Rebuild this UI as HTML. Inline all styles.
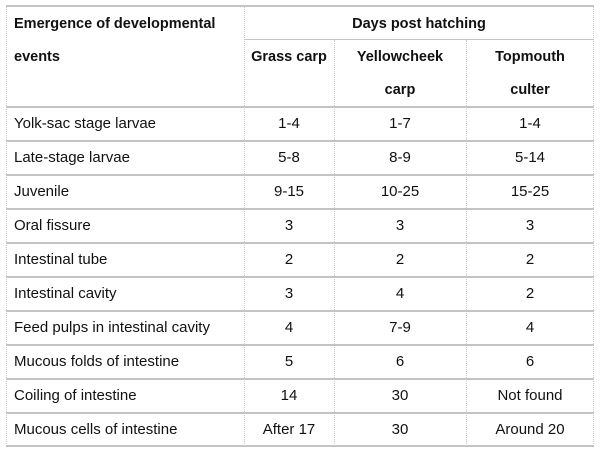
<!DOCTYPE html>
<html><head><style>
body{margin:0;width:600px;height:454px;background:#fff;font-family:"Liberation Sans",sans-serif;font-size:15px;color:#111;position:relative;overflow:hidden}
.h{position:absolute;height:2px;background:#c4c4c4}
.v{position:absolute;width:0;border-left:1px dotted #c8c8c8}
.t{position:absolute;white-space:nowrap}
.c{position:absolute;text-align:center;white-space:nowrap}
b{font-weight:bold;font-size:14.5px}
</style></head><body>
<div class="h" style="left:6px;width:588px;top:5px"></div>
<div class="h" style="left:244px;width:350px;top:39px;height:1px"></div>
<div class="h" style="left:6px;width:588px;top:106px"></div>
<div class="h" style="left:6px;width:588px;top:140px"></div>
<div class="h" style="left:6px;width:588px;top:174px"></div>
<div class="h" style="left:6px;width:588px;top:208px"></div>
<div class="h" style="left:6px;width:588px;top:242px"></div>
<div class="h" style="left:6px;width:588px;top:276px"></div>
<div class="h" style="left:6px;width:588px;top:310px"></div>
<div class="h" style="left:6px;width:588px;top:344px"></div>
<div class="h" style="left:6px;width:588px;top:378px"></div>
<div class="h" style="left:6px;width:588px;top:412px"></div>
<div class="h" style="left:6px;width:588px;top:445px"></div>
<div class="v" style="left:6px;top:6px;height:440px"></div>
<div class="v" style="left:244px;top:6px;height:440px"></div>
<div class="v" style="left:334px;top:40px;height:406px"></div>
<div class="v" style="left:466px;top:40px;height:406px"></div>
<div class="v" style="left:593px;top:6px;height:440px"></div>

<div class="t" style="left:14px;top:15px"><b>Emergence of developmental</b></div>
<div class="t" style="left:14px;top:48px"><b>events</b></div>
<div class="c" style="left:244px;width:350px;top:15px"><b>Days post hatching</b></div>
<div class="c" style="left:244px;width:90px;top:48px"><b>Grass carp</b></div>
<div class="c" style="left:334px;width:132px;top:48px"><b>Yellowcheek</b></div>
<div class="c" style="left:334px;width:132px;top:81px"><b>carp</b></div>
<div class="c" style="left:466px;width:128px;top:48px"><b>Topmouth</b></div>
<div class="c" style="left:466px;width:128px;top:81px"><b>culter</b></div>

<div id="rows"></div>
<script>
var d=[["Yolk-sac stage larvae","1-4","1-7","1-4"],["Late-stage larvae","5-8","8-9","5-14"],["Juvenile","9-15","10-25","15-25"],["Oral fissure","3","3","3"],["Intestinal tube","2","2","2"],["Intestinal cavity","3","4","2"],["Feed pulps in intestinal cavity","4","7-9","4"],["Mucous folds of intestine","5","6","6"],["Coiling of intestine","14","30","Not found"],["Mucous cells of intestine","After 17","30","Around 20"]];
var h="";d.forEach(function(r,i){var y=115+i*34;
h+='<div class="t" style="left:14px;top:'+y+'px">'+r[0]+'</div>';
h+='<div class="c" style="left:244px;width:90px;top:'+y+'px">'+r[1]+'</div>';
h+='<div class="c" style="left:334px;width:132px;top:'+y+'px">'+r[2]+'</div>';
h+='<div class="c" style="left:466px;width:128px;top:'+y+'px">'+r[3]+'</div>';});
document.getElementById("rows").innerHTML=h;
</script>
</body></html>
